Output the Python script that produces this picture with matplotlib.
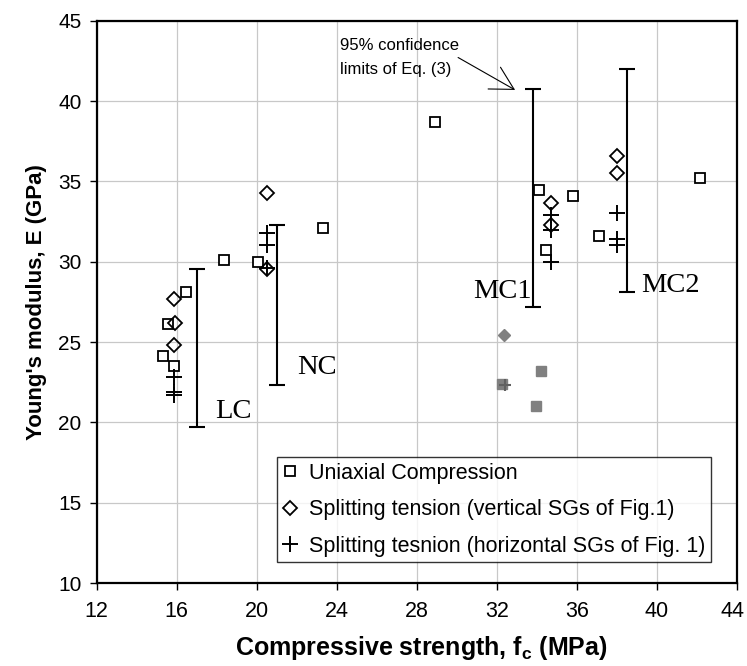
import matplotlib
matplotlib.use("Agg")
import matplotlib.pyplot as plt
from matplotlib import transforms
import numpy as np

plt.rcParams['font.family'] = ['Liberation Sans', 'DejaVu Sans']

# Uniaxial compression tests
uc_fc = [16.45, 15.55, 15.33, 15.85, 18.35, 20.05, 23.33, 28.9, 34.13, 35.83, 34.45, 37.1, 42.17]
uc_E = [28.1, 26.13, 24.13, 23.51, 30.1, 30.0, 32.08, 38.7, 34.47, 34.09, 30.73, 31.6, 35.19]

# Splitting tension, vertical strain gauges
sv_fc = [15.88, 15.92, 15.88, 20.5, 20.5, 34.7, 34.7, 38.0, 38.0]
sv_E = [27.66, 26.19, 24.8, 34.26, 29.55, 33.67, 32.29, 36.6, 35.5]

# Splitting tension, horizontal strain gauges
sh_fc = [15.88, 15.88, 15.88, 20.5, 20.5, 20.5, 34.7, 34.7, 34.7, 38.0, 38.0, 38.0]
sh_E = [22.81, 21.91, 21.71, 31.81, 31.04, 29.6, 32.91, 32.0, 30.0, 33.01, 31.4, 31.04]

# Excluded results (grey)
ex_sq_fc = [32.25, 34.2, 33.95]
ex_sq_E = [22.4, 23.2, 21.02]
ex_dm_fc = [32.38]
ex_dm_E = [25.44]
ex_pl_fc = [32.4]
ex_pl_E = [22.35]

# 95% confidence limits of Eq. (3) for each mix
mixes = ['LC', 'NC', 'MC1', 'MC2']
ci_fc = [17.03, 21.0, 33.8, 38.5]
ci_low = [19.7, 22.33, 27.2, 28.1]
ci_high = [29.53, 32.29, 40.73, 41.97]

x_ticks = [12, 16, 20, 24, 28, 32, 36, 40, 44]
y_ticks = [10, 15, 20, 25, 30, 35, 40, 45]

fig = plt.figure(figsize=(7.47, 6.66), dpi=100)
ax = fig.add_axes([0.12945, 0.12462, 0.85676, 0.84429])

ax.set_xlim(12, 44)
ax.set_ylim(10, 45)
ax.set_xticks(x_ticks)
ax.set_yticks(y_ticks)
ax.grid(True, color='#c8c8c8', lw=0.9, zorder=0)
ax.set_axisbelow(True)
for s in ax.spines.values():
    s.set_linewidth(1.6)
    s.set_color('black')
ax.tick_params(direction='out', length=5, width=1)
ax.tick_params(axis='y', labelsize=15, pad=6)
ax.tick_params(axis='x', labelbottom=False)

# x tick labels drawn below each tick; the last one is nudged inward so it stays on the canvas
xlab_tr = transforms.blended_transform_factory(ax.transData, ax.transAxes)
for t in x_ticks:
    dx = -3 if t == x_ticks[-1] else 0
    tr = transforms.offset_copy(xlab_tr, fig=fig, x=dx, y=-13, units='points')
    ax.text(t, 0, str(t), transform=tr, ha='center', va='top', fontsize=15.5, clip_on=False)

# confidence bars
ci_fc_a = np.array(ci_fc)
lo = np.array(ci_low)
hi = np.array(ci_high)
mid = (lo + hi) / 2
ax.errorbar(ci_fc_a, mid, yerr=[mid - lo, hi - mid], fmt='none', ecolor='black',
            elinewidth=1.5, capsize=5.6, capthick=1.5, zorder=3)

# excluded points
ax.plot(ex_sq_fc, ex_sq_E, ls='none', marker='s', ms=7.5, mfc='#808080', mec='#808080', zorder=4)
ax.plot(ex_dm_fc, ex_dm_E, ls='none', marker='D', ms=6.5, mfc='#808080', mec='#808080', zorder=4)
ax.plot(ex_pl_fc, ex_pl_E, ls='none', marker='+', ms=9, mew=1.5, color='#606060', zorder=5)

ax.plot(uc_fc, uc_E, ls='none', marker='s', ms=7.8, mfc='white', mec='black', mew=1.3,
        zorder=5, label='Uniaxial Compression')
ax.plot(sv_fc, sv_E, ls='none', marker='D', ms=6.8, mfc='none', mec='black', mew=1.3,
        zorder=6, label='Splitting tension (vertical SGs of Fig.1)')
ax.plot(sh_fc, sh_E, ls='none', marker='+', ms=11, mew=1.4, color='black',
        zorder=6, label='Splitting tesnion (horizontal SGs of Fig. 1)')

# mix labels
serif = ['Liberation Serif', 'DejaVu Serif']
ax.text(17.9, 20.7, 'LC', family=serif, fontsize=20.5, ha='left', va='center')
ax.text(22.0, 23.4, 'NC', family=serif, fontsize=20.5, ha='left', va='center')
ax.text(33.75, 28.15, 'MC1', family=serif, fontsize=20.5, ha='right', va='center')
ax.text(39.2, 28.5, 'MC2', family=serif, fontsize=20.5, ha='left', va='center')

# callout
ax.text(24.17, 42.71, '95% confidence\nlimits of Eq. (3)', fontsize=12, ha='left', va='center',
        linespacing=1.8)
ax.annotate('', xy=(32.92, 40.69), xytext=(30.07, 42.71),
            arrowprops=dict(arrowstyle='->,head_length=0.82,head_width=0.45', lw=0.8,
                            color='black', mutation_scale=20, shrinkA=0, shrinkB=0))

ax.set_xlabel('Compressive strength, f$_\\mathregular{c}$ (MPa)', fontsize=18, fontweight='bold')
ax.xaxis.set_label_coords(0.507, -0.1156)
ax.xaxis.label.set_va('center')
ax.set_ylabel("Young's modulus, E (GPa)", fontsize=16, fontweight='bold', labelpad=8)

leg = ax.legend(loc='lower left', bbox_to_anchor=(0.28125, 0.0375), borderaxespad=0,
                fontsize=15.5, frameon=True, fancybox=False, handlelength=0.7,
                handletextpad=0.55, labelspacing=0.72, borderpad=0.25)
leg.get_frame().set_edgecolor('black')
leg.get_frame().set_linewidth(1.0)

fig.savefig('out.png', dpi=100)
